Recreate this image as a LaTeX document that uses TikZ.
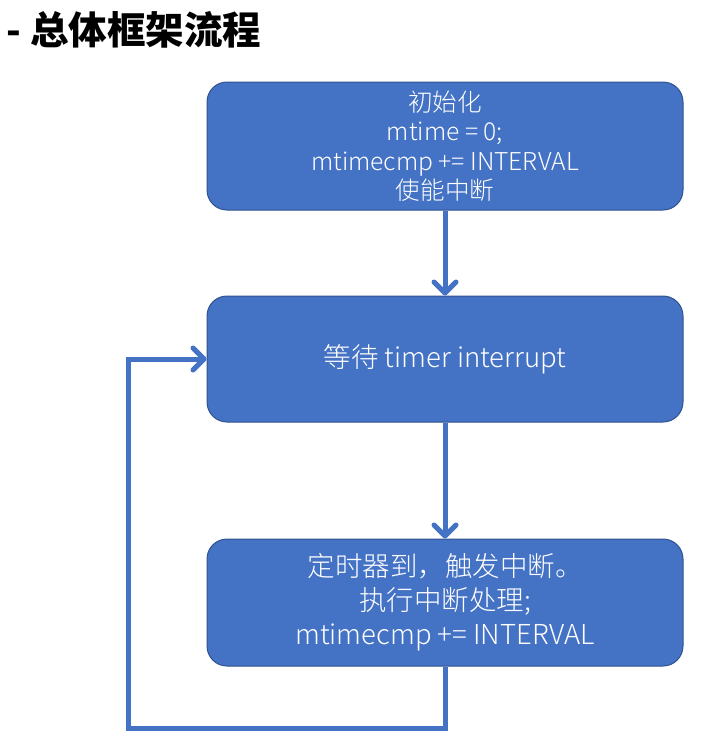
\documentclass[tikz,border=0pt]{standalone}
\usepackage{fontspec}
\setmainfont{Noto Sans CJK SC}
\newfontfamily\lightfont{Noto Sans CJK SC}[UprightFont={* Light}]
\usetikzlibrary{arrows.meta}
\definecolor{boxblue}{HTML}{4472C4}
\definecolor{boxedge}{HTML}{2F528F}

\begin{document}
\begin{tikzpicture}[x=1pt,y=-1pt]
    \tikzstyle{box}=[rounded corners=20pt,draw=boxedge,line width=1pt,fill=boxblue,text=white,
                     minimum width=476pt,align=center,inner sep=0pt]
    \tikzstyle{flow}=[draw=boxblue,line width=5pt,-{Straight Barb[round,length=11pt,width=22pt]}]

    \useasboundingbox (0,0) rectangle (728,742);

    \def\X{445}

    \node[anchor=west,font=\bfseries\fontsize{38.5}{44}\selectfont] (title) at (3,30) {- 总体框架流程};

    \node[box,minimum height=128pt,font=\lightfont\fontsize{24.6}{29.5}\selectfont] (init) at (\X,146)
        {初始化\\mtime = 0;\\mtimecmp += INTERVAL\\使能中断};
    \node[box,minimum height=126pt,font=\lightfont\fontsize{27.5}{34}\selectfont] (wait) at (\X,359)
        {等待 timer interrupt};
    \node[box,minimum height=127pt,font=\lightfont\fontsize{27.5}{34}\selectfont] (isr) at (\X,602.5)
        {定时器到，触发中断。\\执行中断处理;\\mtimecmp += INTERVAL};

    \coordinate (loop) at (128,728);

    \path[flow] (init) -- (wait);
    \path[flow] (wait) -- (isr);
    \path[flow] (isr.south) |- (loop) |- (wait.west);
\end{tikzpicture}
\end{document}
